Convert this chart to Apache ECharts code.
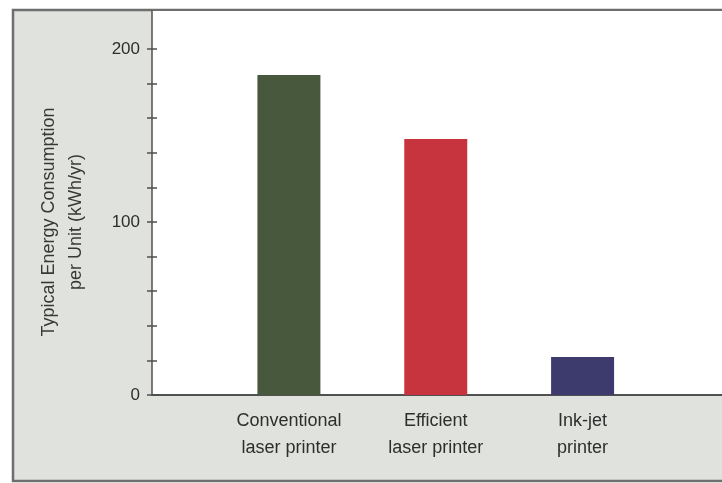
<!DOCTYPE html>
<html>
<head>
<meta charset="utf-8">
<script src="https://cdn.jsdelivr.net/npm/echarts@6/dist/echarts.min.js"></script>
<style>
  html, body { margin: 0; padding: 0; background: #ffffff; }
  #chart { width: 722px; height: 483px; }
</style>
</head>
<body>
<div id="chart"></div>
<script>
// Printer categories and their typical yearly energy use
const categories = ['Conventional\nlaser printer', 'Efficient\nlaser printer', 'Ink-jet\nprinter'];
const energyUse = [185, 148, 22];
const barColors = ['#48583c', '#c8343e', '#3d3b6d'];

// Value axis ticks and labels
const tickValues = [0, 20, 40, 60, 80, 100, 120, 140, 160, 180, 200];
const labelValues = [0, 100, 200];
const axisMax = 222;
const axisTitle = 'Typical Energy Consumption\nper Unit (kWh/yr)';

const font = 'Liberation Sans, Arial, Helvetica, sans-serif';
const textColor = '#2e2e2e';

const chart = echarts.init(document.getElementById('chart'), null, { renderer: 'canvas' });

chart.setOption({
  backgroundColor: '#ffffff',
  animation: false,
  graphic: [{
    type: 'rect',
    z: -10,
    shape: { x: 13, y: 10, width: 730, height: 471 },
    style: { fill: '#e0e3dd', stroke: '#6e6e6e', lineWidth: 2.5 }
  }],
  grid: [
    // full plotting panel: carries the value axis and the baseline
    { left: 152, right: 0, top: 11, bottom: 88, show: true, backgroundColor: '#ffffff', borderWidth: 0 },
    // inner band where the category slots sit
    { left: 215.5, right: 66, top: 11, bottom: 88 }
  ],
  xAxis: [
    {
      gridIndex: 0, type: 'category', data: [''],
      axisLine: { show: true, lineStyle: { color: '#505050', width: 2 } },
      axisTick: { show: false }, axisLabel: { show: false }, splitLine: { show: false }
    },
    {
      gridIndex: 1, type: 'category', data: categories,
      axisLine: { show: false }, axisTick: { show: false },
      axisLabel: {
        color: textColor, fontFamily: font, fontSize: 18, lineHeight: 27, margin: 13
      }
    }
  ],
  yAxis: [
    {
      gridIndex: 0, type: 'value', min: 0, max: axisMax, position: 'left',
      axisLine: { show: true, lineStyle: { color: '#505050', width: 1.5 } },
      axisTick: { show: true, length: 5, customValues: tickValues, lineStyle: { color: '#505050', width: 1.5 } },
      axisLabel: { customValues: labelValues, color: textColor, fontFamily: font, fontSize: 17, margin: 12 },
      splitLine: { show: false },
      name: axisTitle,
      nameLocation: 'middle',
      nameRotate: 90,
      nameGap: 62,
      nameTextStyle: {
        color: '#383838', fontFamily: font, fontSize: 18, lineHeight: 27,
        align: 'center', padding: [0, 38, 0, 0]
      }
    },
    {
      // inward half of the crossing tick marks
      gridIndex: 0, type: 'value', min: 0, max: axisMax, position: 'left', offset: 0,
      axisLine: { show: false },
      axisTick: { show: true, inside: true, length: 5, customValues: tickValues, lineStyle: { color: '#505050', width: 1.5 } },
      axisLabel: { show: false }, splitLine: { show: false }
    },
    {
      gridIndex: 1, type: 'value', min: 0, max: axisMax, show: false
    }
  ],
  series: [{
    type: 'bar',
    xAxisIndex: 1,
    yAxisIndex: 2,
    barWidth: 63,
    data: energyUse.map((v, i) => ({ value: v, itemStyle: { color: barColors[i] } }))
  }]
});
</script>
</body>
</html>
